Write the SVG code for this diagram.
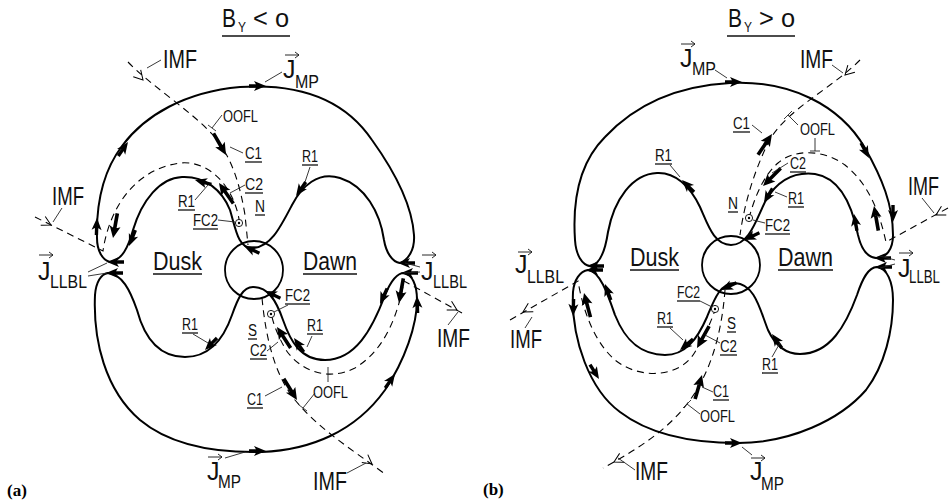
<svg xmlns="http://www.w3.org/2000/svg" width="949" height="500" viewBox="0 0 949 500">
<style>
.fl{fill:none;stroke:#000;stroke-width:2}
.ds{fill:none;stroke:#000;stroke-width:1.1;stroke-dasharray:7 5}
.ld{fill:none;stroke:#222;stroke-width:0.9}
.ul{stroke:#111;stroke-width:1.3}
.earth{fill:none;stroke:#000;stroke-width:1.8}
.t{font-family:"Liberation Sans Narrow","Liberation Sans",Arial,sans-serif;fill:#111}
.big{font-size:25px}
.sub{font-size:19px}
.sm{font-size:16px}
.pl{font-family:"Liberation Serif","Times New Roman",serif;font-weight:bold;font-size:17px;fill:#000}
</style>
<defs>
  <!-- filled head with short thick stem, tip at origin, pointing +x -->
  <path id="ah" d="M0,0 L-12,-5 L-9,0 L-12,5 Z M-9,-1.7 H-17 V1.7 H-9 Z" fill="#000"/>
  <!-- heavy current arrow -->
  <path id="ca" d="M0,0 L-12,-5.5 L-9.5,0 L-12,5.5 Z M-9.5,-1.8 H-25 V1.8 H-9.5 Z" fill="#000"/>
  <!-- open chevron for field direction -->
  <path id="va" d="M-9,-5 L0,0 L-9,5" fill="none" stroke="#000" stroke-width="1"/>
  <!-- small vector sign over J -->
  <path id="vec" d="M0,0 H14 M10,-3 L14,0 L10,3" fill="none" stroke="#111" stroke-width="0.9"/>
  <g id="fc2dot"><circle r="3.6" fill="#fff" stroke="#000" stroke-width="0.9"/><circle r="1.2" fill="#000"/></g>
</defs>

<!-- ===================== (a) ===================== -->
<g id="panel-a">
  <g id="a-title">
    <text class="t" x="222" y="27" font-size="26" textLength="14" lengthAdjust="spacingAndGlyphs">B</text>
    <text class="t" x="238" y="32" font-size="14" textLength="8" lengthAdjust="spacingAndGlyphs">Y</text>
    <text class="t" x="253" y="27" font-size="26" textLength="36" lengthAdjust="spacingAndGlyphs">&lt; o</text>
    <line class="ul" x1="222" y1="36" x2="290" y2="36" stroke-width="1.5"/>
  </g>

  <g id="a-earth"><circle class="earth" cx="254" cy="270" r="29"/></g>

  <g id="a-connectors">
    <!-- northern current loop -->
    <path class="fl" d="M110,262 C102,260 97,250 97,238 C96,200 104,170 122,146 C145,115 185,92 240,87 C300,83 345,100 372,140 C395,172 412,205 414,235 C415,250 408,260 400,263 C392,262 386,252 384,240 C380,212 365,186 340,178 C318,171 302,186 292,205 C280,228 270,248 252,248 C238,248 236,230 230,210 C222,190 205,176 182,177 C160,178 142,200 133,230 C128,248 122,260 110,262 Z"/>
    <!-- southern current loop -->
    <path class="fl" d="M108,273 C101,274 96,282 95,295 C93,340 105,390 140,420 C170,445 215,453 262,452 C310,450 355,432 385,390 C405,360 417,325 417,300 C417,285 412,274 404,273 C396,273 390,283 385,295 C372,330 355,360 325,360 C300,360 290,340 283,320 C276,300 268,287 253,287 C243,287 238,298 232,315 C224,338 210,357 185,357 C160,357 145,340 137,310 C130,290 122,274 108,273 Z"/>
    <!-- open field lines -->
    <path class="ds" d="M128,62 C150,85 190,110 213,135 C232,157 240,185 245,215 L248,245"/>
    <path class="ds" d="M35,217 L103,251 C108,215 130,170 180,163 C212,160 234,190 239,219"/>
    <path class="ds" d="M462,313 L404,281 C398,315 385,350 355,368 C325,383 298,368 286,350 C279,338 274,326 272,317"/>
    <path class="ds" d="M262,298 C266,340 275,375 295,400 C320,430 350,448 385,474"/>

    <use href="#va" transform="translate(143,80) rotate(48)"/>
    <use href="#va" transform="translate(51,225) rotate(27)"/>
    <use href="#va" transform="translate(457,310) rotate(29)"/>
    <use href="#va" transform="translate(372,464) rotate(37)"/>

    <use href="#ah" transform="translate(266,86) rotate(0)"/>
    <use href="#ah" transform="translate(97,218) rotate(-88)"/>
    <use href="#ah" transform="translate(128,142) rotate(-55)"/>
    <use href="#ah" transform="translate(129,246) rotate(112)"/>
    <use href="#ah" transform="translate(195,180) rotate(195)"/>
    <use href="#ah" transform="translate(244,246) rotate(205)"/>
    <use href="#ah" transform="translate(296,196) rotate(125)"/>
    <use href="#ah" transform="translate(398,263) rotate(180)"/>
    <use href="#ah" transform="translate(107,262) rotate(180)"/>
    <use href="#ah" transform="translate(266,451) rotate(0)"/>
    <use href="#ah" transform="translate(395,374) rotate(-55)"/>
    <use href="#ah" transform="translate(417,296) rotate(-92)"/>
    <use href="#ah" transform="translate(401,273) rotate(180)"/>
    <use href="#ah" transform="translate(380,304) rotate(115)"/>
    <use href="#ah" transform="translate(294,338) rotate(235)"/>
    <use href="#ah" transform="translate(265,291) rotate(205)"/>
    <use href="#ah" transform="translate(205,350) rotate(135)"/>
    <use href="#ah" transform="translate(106,273) rotate(180)"/>

    <use href="#ca" transform="translate(113,238) rotate(100)"/>
    <use href="#ca" transform="translate(399,303) rotate(100)"/>
    <use href="#ca" transform="translate(226,155) rotate(60)"/>
    <use href="#ca" transform="translate(219,183) rotate(235)"/>
    <use href="#ca" transform="translate(277,327) rotate(237)"/>
    <use href="#ca" transform="translate(297,400) rotate(58)"/>

    <use href="#fc2dot" transform="translate(239,223)"/>
    <use href="#fc2dot" transform="translate(271,314)"/>
  </g>

  <g id="a-labels">
    <g id="a-imf-nw"><text class="t big" x="163" y="68" textLength="34" lengthAdjust="spacingAndGlyphs">IMF</text><line class="ld" x1="161" y1="60" x2="147" y2="68"/></g>
    <g id="a-imf-w"><text class="t big" x="52" y="205" textLength="32" lengthAdjust="spacingAndGlyphs">IMF</text><line class="ld" x1="62" y1="208" x2="53" y2="222"/></g>
    <g id="a-imf-e"><text class="t big" x="437" y="347" textLength="33" lengthAdjust="spacingAndGlyphs">IMF</text><line class="ld" x1="448" y1="325" x2="458" y2="312"/></g>
    <g id="a-imf-s"><text class="t big" x="313" y="490" textLength="34" lengthAdjust="spacingAndGlyphs">IMF</text><line class="ld" x1="347" y1="473" x2="366" y2="463"/></g>

    <g id="a-jmp-n"><use href="#vec" transform="translate(285,55)"/><text class="t big" x="283" y="78">J</text><text class="t sub" x="295" y="88" textLength="24" lengthAdjust="spacingAndGlyphs">MP</text><line class="ld" x1="282" y1="72" x2="265" y2="82"/></g>
    <g id="a-jmp-s"><use href="#vec" transform="translate(208,457)"/><text class="t big" x="207" y="480">J</text><text class="t sub" x="218" y="488" textLength="23" lengthAdjust="spacingAndGlyphs">MP</text><line class="ld" x1="225" y1="458" x2="245" y2="452"/></g>
    <g id="a-jllbl-w"><use href="#vec" transform="translate(39,255)"/><text class="t big" x="38" y="280">J</text><text class="t sub" x="50" y="288" textLength="37" lengthAdjust="spacingAndGlyphs">LLBL</text><line class="ld" x1="88" y1="272" x2="107" y2="263"/><line class="ld" x1="88" y1="276" x2="107" y2="273"/></g>
    <g id="a-jllbl-e"><use href="#vec" transform="translate(422,255)"/><text class="t big" x="421" y="280">J</text><text class="t sub" x="433" y="288" textLength="34" lengthAdjust="spacingAndGlyphs">LLBL</text><line class="ld" x1="420" y1="267" x2="405" y2="263"/><line class="ld" x1="420" y1="272" x2="404" y2="273"/></g>

    <g id="a-oofl-n"><text class="t sm" x="223" y="122" textLength="35" lengthAdjust="spacingAndGlyphs">OOFL</text><line class="ld" x1="222" y1="115" x2="212" y2="128"/><line class="ld" x1="208" y1="125" x2="216" y2="131"/></g>
    <g id="a-oofl-s"><text class="t sm" x="313" y="398" textLength="35" lengthAdjust="spacingAndGlyphs">OOFL</text><line class="ld" x1="315" y1="393" x2="303" y2="408"/><line class="ld" x1="299" y1="405" x2="307" y2="411"/><line class="ld" x1="328" y1="382" x2="328" y2="367"/></g>

    <g id="a-c1-n"><text class="t sm" x="245" y="159" textLength="17" lengthAdjust="spacingAndGlyphs">C1</text><line class="ul" x1="245" y1="162" x2="262" y2="162"/><line class="ld" x1="243" y1="153" x2="230" y2="147"/></g>
    <g id="a-c2-n"><text class="t sm" x="245" y="190" textLength="18" lengthAdjust="spacingAndGlyphs">C2</text><line class="ul" x1="245" y1="193" x2="263" y2="193"/><line class="ld" x1="245" y1="185" x2="230" y2="193"/></g>
    <g id="a-n"><text class="t sm" x="255" y="212" textLength="10" lengthAdjust="spacingAndGlyphs">N</text><line class="ul" x1="255" y1="215" x2="265" y2="215"/></g>
    <g id="a-fc2-n"><text class="t sm" x="193" y="226" textLength="25" lengthAdjust="spacingAndGlyphs">FC2</text><line class="ul" x1="193" y1="229" x2="218" y2="229"/><line class="ld" x1="218" y1="220" x2="235" y2="222"/></g>
    <g id="a-r1-nw"><text class="t sm" x="178" y="207" textLength="17" lengthAdjust="spacingAndGlyphs">R1</text><line class="ul" x1="178" y1="210" x2="195" y2="210"/><line class="ld" x1="195" y1="200" x2="208" y2="185"/></g>
    <g id="a-r1-ne"><text class="t sm" x="302" y="162" textLength="16" lengthAdjust="spacingAndGlyphs">R1</text><line class="ul" x1="302" y1="165" x2="318" y2="165"/><line class="ld" x1="310" y1="167" x2="305" y2="182"/></g>
    <g id="a-r1-sw"><text class="t sm" x="182" y="330" textLength="16" lengthAdjust="spacingAndGlyphs">R1</text><line class="ul" x1="182" y1="333" x2="198" y2="333"/><line class="ld" x1="193" y1="334" x2="208" y2="343"/></g>
    <g id="a-r1-se"><text class="t sm" x="307" y="331" textLength="16" lengthAdjust="spacingAndGlyphs">R1</text><line class="ul" x1="307" y1="334" x2="323" y2="334"/><line class="ld" x1="312" y1="336" x2="307" y2="347"/></g>
    <g id="a-fc2-s"><text class="t sm" x="285" y="301" textLength="25" lengthAdjust="spacingAndGlyphs">FC2</text><line class="ul" x1="285" y1="304" x2="310" y2="304"/><line class="ld" x1="288" y1="305" x2="274" y2="312"/></g>
    <g id="a-s"><text class="t sm" x="248" y="336" textLength="9" lengthAdjust="spacingAndGlyphs">S</text><line class="ul" x1="248" y1="339" x2="257" y2="339"/></g>
    <g id="a-c2-s"><text class="t sm" x="250" y="356" textLength="17" lengthAdjust="spacingAndGlyphs">C2</text><line class="ul" x1="250" y1="359" x2="267" y2="359"/><line class="ld" x1="267" y1="351" x2="278" y2="342"/></g>
    <g id="a-c1-s"><text class="t sm" x="247" y="405" textLength="16" lengthAdjust="spacingAndGlyphs">C1</text><line class="ul" x1="247" y1="408" x2="263" y2="408"/><line class="ld" x1="265" y1="396" x2="282" y2="387"/></g>

    <g id="a-dusk"><text class="t big" x="153" y="270" textLength="49" lengthAdjust="spacingAndGlyphs">Dusk</text><line class="ul" x1="153" y1="274" x2="202" y2="274" stroke-width="1.6"/></g>
    <g id="a-dawn"><text class="t big" x="303" y="270" textLength="54" lengthAdjust="spacingAndGlyphs">Dawn</text><line class="ul" x1="303" y1="274" x2="357" y2="274" stroke-width="1.6"/></g>
    <text class="pl" x="7" y="496">(a)</text>
  </g>
</g>

<!-- ===================== (b) ===================== -->
<g id="panel-b">
  <g id="b-title">
    <text class="t" x="728" y="27" font-size="26" textLength="14" lengthAdjust="spacingAndGlyphs">B</text>
    <text class="t" x="744" y="32" font-size="14" textLength="8" lengthAdjust="spacingAndGlyphs">Y</text>
    <text class="t" x="759" y="27" font-size="26" textLength="36" lengthAdjust="spacingAndGlyphs">&gt; o</text>
    <line class="ul" x1="727" y1="36" x2="795" y2="36" stroke-width="1.5"/>
  </g>

  <g id="b-earth"><circle class="earth" cx="731" cy="265" r="29"/></g>

  <g id="b-connectors">
    <!-- northern current loop -->
    <path class="fl" d="M590,266 C582,265 576,255 575,240 C572,195 582,160 605,137 C635,105 675,86 730,83 C790,80 840,105 865,148 C882,178 893,205 893,235 C893,250 886,258 876,258 C866,257 861,248 858,235 C852,205 840,178 815,174 C790,171 775,185 766,200 C757,217 750,245 731,245 C714,245 708,225 700,207 C690,186 675,172 657,173 C632,174 614,200 608,232 C605,252 600,265 590,266 Z"/>
    <!-- southern current loop -->
    <path class="fl" d="M588,270 C580,271 574,280 573,292 C571,340 590,390 620,412 C650,435 690,443 738,443 C790,443 840,420 866,390 C885,365 893,330 893,300 C893,282 887,268 877,267 C868,267 862,280 857,295 C846,325 830,354 800,354 C785,354 775,345 768,330 C760,310 755,284 735,283 C720,283 714,300 707,317 C697,340 685,355 665,355 C640,355 625,340 615,315 C608,295 600,271 588,270 Z"/>
    <!-- open field lines -->
    <path class="ds" d="M860,60 C830,90 785,110 768,143 C755,170 745,200 740,235"/>
    <path class="ds" d="M948,208 L886,242 C880,215 870,185 845,165 C825,150 795,148 778,163 C762,177 754,200 749,218"/>
    <path class="ds" d="M510,320 L578,281 C582,305 592,340 615,360 C640,380 680,378 695,352 C705,335 711,322 715,310"/>
    <path class="ds" d="M725,290 C722,330 712,370 690,400 C670,428 640,448 603,468"/>

    <use href="#va" transform="translate(845,75) rotate(135)"/>
    <use href="#va" transform="translate(936,215) rotate(151)"/>
    <use href="#va" transform="translate(523,312) rotate(150)"/>
    <use href="#va" transform="translate(614,462) rotate(152)"/>

    <use href="#ah" transform="translate(742,82) rotate(0)"/>
    <use href="#ah" transform="translate(869,158) rotate(62)"/>
    <use href="#ah" transform="translate(893,222) rotate(90)"/>
    <use href="#ah" transform="translate(874,258) rotate(180)"/>
    <use href="#ah" transform="translate(854,214) rotate(-100)"/>
    <use href="#ah" transform="translate(764,203) rotate(120)"/>
    <use href="#ah" transform="translate(744,240) rotate(155)"/>
    <use href="#ah" transform="translate(682,180) rotate(225)"/>
    <use href="#ah" transform="translate(587,266) rotate(180)"/>
    <use href="#ah" transform="translate(742,443) rotate(0)"/>
    <use href="#ah" transform="translate(875,267) rotate(180)"/>
    <use href="#ah" transform="translate(772,334) rotate(235)"/>
    <use href="#ah" transform="translate(721,290) rotate(155)"/>
    <use href="#ah" transform="translate(680,350) rotate(140)"/>
    <use href="#ah" transform="translate(605,284) rotate(250)"/>
    <use href="#ah" transform="translate(586,270) rotate(180)"/>
    <use href="#ah" transform="translate(573,316) rotate(92)"/>
    <use href="#ah" transform="translate(599,379) rotate(58)"/>

    <use href="#ca" transform="translate(874,206) rotate(-100)"/>
    <use href="#ca" transform="translate(584,293) rotate(-105)"/>
    <use href="#ca" transform="translate(772,134) rotate(-56)"/>
    <use href="#ca" transform="translate(763,186) rotate(135)"/>
    <use href="#ca" transform="translate(697,348) rotate(119)"/>
    <use href="#ca" transform="translate(702,375) rotate(-74)"/>

    <use href="#fc2dot" transform="translate(749,218)"/>
    <use href="#fc2dot" transform="translate(715,309)"/>
  </g>

  <g id="b-labels">
    <g id="b-imf-ne"><text class="t big" x="800" y="68" textLength="33" lengthAdjust="spacingAndGlyphs">IMF</text><line class="ld" x1="832" y1="65" x2="843" y2="73"/></g>
    <g id="b-imf-e"><text class="t big" x="939" y="195" text-anchor="end" textLength="31" lengthAdjust="spacingAndGlyphs">IMF</text><line class="ld" x1="922" y1="198" x2="934" y2="213"/></g>
    <g id="b-imf-w"><text class="t big" x="510" y="348" textLength="32" lengthAdjust="spacingAndGlyphs">IMF</text><line class="ld" x1="532" y1="317" x2="525" y2="328"/></g>
    <g id="b-imf-s"><text class="t big" x="635" y="480" textLength="33" lengthAdjust="spacingAndGlyphs">IMF</text><line class="ld" x1="635" y1="470" x2="618" y2="458"/></g>

    <g id="b-jmp-n"><use href="#vec" transform="translate(681,44)"/><text class="t big" x="680" y="67">J</text><text class="t sub" x="692" y="75" textLength="24" lengthAdjust="spacingAndGlyphs">MP</text><line class="ld" x1="715" y1="70" x2="727" y2="78"/></g>
    <g id="b-jmp-s"><use href="#vec" transform="translate(751,458)"/><text class="t big" x="750" y="480">J</text><text class="t sub" x="761" y="490" textLength="23" lengthAdjust="spacingAndGlyphs">MP</text><line class="ld" x1="752" y1="455" x2="742" y2="447"/></g>
    <g id="b-jllbl-w"><use href="#vec" transform="translate(518,252)"/><text class="t big" x="515" y="273">J</text><text class="t sub" x="527" y="283" textLength="37" lengthAdjust="spacingAndGlyphs">LLBL</text></g>
    <g id="b-jllbl-e"><use href="#vec" transform="translate(899,253)"/><text class="t big" x="898" y="277">J</text><text class="t sub" x="940" y="283" text-anchor="end" textLength="31" lengthAdjust="spacingAndGlyphs">LLBL</text><line class="ld" x1="895" y1="260" x2="880" y2="256"/><line class="ld" x1="895" y1="264" x2="880" y2="268"/></g>

    <g id="b-oofl-n"><text class="t sm" x="800" y="135" textLength="35" lengthAdjust="spacingAndGlyphs">OOFL</text><line class="ld" x1="798" y1="125" x2="788" y2="115"/><line class="ld" x1="784" y1="119" x2="792" y2="111"/><line class="ld" x1="815" y1="138" x2="815" y2="151"/><line class="ld" x1="810" y1="151" x2="820" y2="151"/></g>
    <g id="b-oofl-s"><text class="t sm" x="700" y="422" textLength="35" lengthAdjust="spacingAndGlyphs">OOFL</text><line class="ld" x1="700" y1="414" x2="687" y2="404"/><line class="ld" x1="683" y1="408" x2="691" y2="400"/></g>

    <g id="b-c1-n"><text class="t sm" x="733" y="129" textLength="17" lengthAdjust="spacingAndGlyphs">C1</text><line class="ul" x1="733" y1="132" x2="750" y2="132"/><line class="ld" x1="752" y1="125" x2="762" y2="133"/></g>
    <g id="b-c2-n"><text class="t sm" x="790" y="169" textLength="16" lengthAdjust="spacingAndGlyphs">C2</text><line class="ul" x1="790" y1="172" x2="806" y2="172"/><line class="ld" x1="788" y1="163" x2="772" y2="173"/></g>
    <g id="b-r1-ne"><text class="t sm" x="788" y="204" textLength="16" lengthAdjust="spacingAndGlyphs">R1</text><line class="ul" x1="788" y1="207" x2="804" y2="207"/><line class="ld" x1="787" y1="197" x2="775" y2="192"/></g>
    <g id="b-n"><text class="t sm" x="728" y="209" textLength="10" lengthAdjust="spacingAndGlyphs">N</text><line class="ul" x1="728" y1="212" x2="738" y2="212"/></g>
    <g id="b-fc2-n"><text class="t sm" x="765" y="231" textLength="25" lengthAdjust="spacingAndGlyphs">FC2</text><line class="ul" x1="765" y1="234" x2="790" y2="234"/><line class="ld" x1="765" y1="223" x2="753" y2="220"/></g>
    <g id="b-r1-nw"><text class="t sm" x="655" y="161" textLength="17" lengthAdjust="spacingAndGlyphs">R1</text><line class="ul" x1="655" y1="164" x2="672" y2="164"/><line class="ld" x1="670" y1="165" x2="680" y2="177"/></g>
    <g id="b-fc2-s"><text class="t sm" x="677" y="298" textLength="23" lengthAdjust="spacingAndGlyphs">FC2</text><line class="ul" x1="677" y1="301" x2="700" y2="301"/><line class="ld" x1="700" y1="301" x2="712" y2="307"/></g>
    <g id="b-r1-sw"><text class="t sm" x="657" y="324" textLength="16" lengthAdjust="spacingAndGlyphs">R1</text><line class="ul" x1="657" y1="327" x2="673" y2="327"/><line class="ld" x1="670" y1="328" x2="683" y2="340"/></g>
    <g id="b-s"><text class="t sm" x="727" y="329" textLength="9" lengthAdjust="spacingAndGlyphs">S</text><line class="ul" x1="727" y1="332" x2="736" y2="332"/></g>
    <g id="b-c2-s"><text class="t sm" x="720" y="352" textLength="17" lengthAdjust="spacingAndGlyphs">C2</text><line class="ul" x1="720" y1="355" x2="737" y2="355"/><line class="ld" x1="720" y1="343" x2="705" y2="335"/></g>
    <g id="b-c1-s"><text class="t sm" x="713" y="397" textLength="16" lengthAdjust="spacingAndGlyphs">C1</text><line class="ul" x1="713" y1="400" x2="729" y2="400"/><line class="ld" x1="713" y1="392" x2="702" y2="387"/></g>
    <g id="b-r1-se"><text class="t sm" x="762" y="370" textLength="16" lengthAdjust="spacingAndGlyphs">R1</text><line class="ul" x1="762" y1="373" x2="778" y2="373"/><line class="ld" x1="772" y1="357" x2="780" y2="343"/></g>

    <g id="b-dusk"><text class="t big" x="630" y="266" textLength="49" lengthAdjust="spacingAndGlyphs">Dusk</text><line class="ul" x1="630" y1="270" x2="679" y2="270" stroke-width="1.6"/></g>
    <g id="b-dawn"><text class="t big" x="778" y="266" textLength="55" lengthAdjust="spacingAndGlyphs">Dawn</text><line class="ul" x1="778" y1="270" x2="833" y2="270" stroke-width="1.6"/></g>
    <text class="pl" x="483" y="495">(b)</text>
  </g>
</g>
</svg>
